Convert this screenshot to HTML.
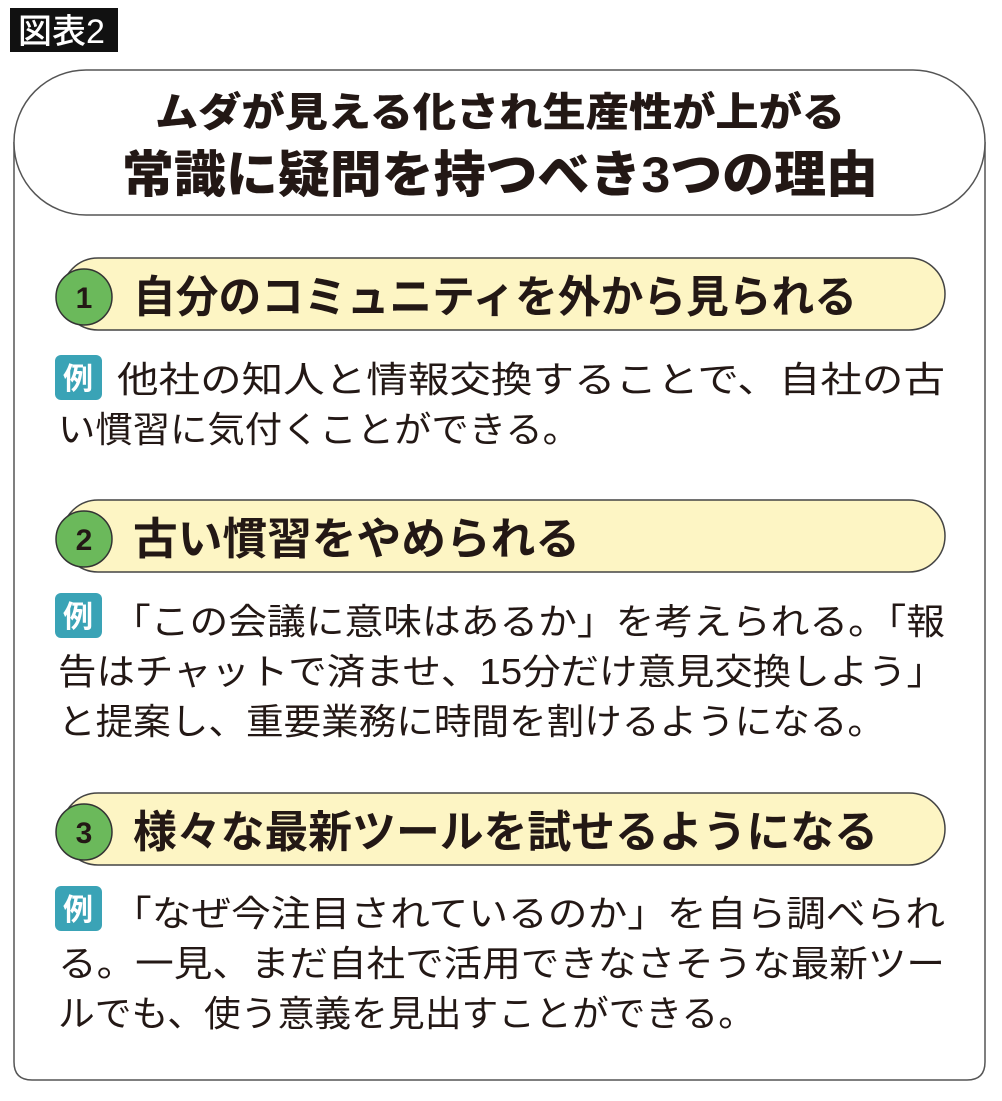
<!DOCTYPE html>
<html><head><meta charset="utf-8"><style>
html,body{margin:0;padding:0;background:#fff;}
svg{display:block;}
text{font-family:"Liberation Sans","Noto Sans CJK JP",sans-serif;fill:#231815;}
.t{font-weight:900;}
.h{font-weight:700;font-size:44px;}
.b{font-size:36px;}
.n{font-weight:900;font-size:30px;}
.r{font-weight:700;font-size:30px;fill:#fff;}
</style></head><body>
<svg width="1002" height="1101" viewBox="0 0 1002 1101">
<rect x="10" y="8" width="108" height="44" fill="#111"/>
<text x="18" y="43" font-size="34" style="fill:#fff;font-weight:500">図表2</text>
<path d="M14 142 V1062 Q14 1080 32 1080 H967 Q985 1080 985 1062 V142" fill="none" stroke="#555" stroke-width="1.5"/>
<rect x="14" y="70" width="971" height="145" rx="72" fill="#fff" stroke="#555" stroke-width="1.5"/>
<text class="t" x="155" y="126" font-size="40" textLength="690" lengthAdjust="spacingAndGlyphs">ムダが見える化され生産性が上がる</text>
<text class="t" x="122" y="192" font-size="50" textLength="756" lengthAdjust="spacingAndGlyphs">常識に疑問を持つべき3つの理由</text>

<g>
<rect x="62" y="258" width="883" height="72" rx="36" fill="#fdf5c4" stroke="#444" stroke-width="1.5"/>
<circle cx="84" cy="297" r="28" fill="#6bb95b" stroke="#333" stroke-width="1.5"/>
<text class="n" x="84" y="308" text-anchor="middle">1</text>
<text class="h" x="133" y="312" textLength="724" lengthAdjust="spacingAndGlyphs">自分のコミュニティを外から見られる</text>
<rect x="55" y="355" width="47" height="45" rx="6" fill="#3aa3b6"/>
<text class="r" x="78" y="389" text-anchor="middle">例</text>
<text class="b" x="117" y="392" textLength="828" lengthAdjust="spacingAndGlyphs">他社の知人と情報交換することで、自社の古</text>
<text class="b" x="58" y="442" textLength="522" lengthAdjust="spacingAndGlyphs">い慣習に気付くことができる。</text>
</g>

<g>
<rect x="62" y="500" width="883" height="72" rx="36" fill="#fdf5c4" stroke="#444" stroke-width="1.5"/>
<circle cx="84" cy="539" r="28" fill="#6bb95b" stroke="#333" stroke-width="1.5"/>
<text class="n" x="84" y="550" text-anchor="middle">2</text>
<text class="h" x="133" y="554" textLength="447" lengthAdjust="spacingAndGlyphs">古い慣習をやめられる</text>
<rect x="55" y="593" width="47" height="45" rx="6" fill="#3aa3b6"/>
<text class="r" x="78" y="627" text-anchor="middle">例</text>
<text class="b" x="112" y="634" textLength="833" lengthAdjust="spacingAndGlyphs">「この会議に意味はあるか」を考えられる。「報</text>
<text class="b" x="58" y="684" textLength="887" lengthAdjust="spacingAndGlyphs">告はチャットで済ませ、15分だけ意見交換しよう」</text>
<text class="b" x="58" y="734" textLength="827" lengthAdjust="spacingAndGlyphs">と提案し、重要業務に時間を割けるようになる。</text>
</g>

<g>
<rect x="62" y="793" width="883" height="72" rx="36" fill="#fdf5c4" stroke="#444" stroke-width="1.5"/>
<circle cx="84" cy="832" r="28" fill="#6bb95b" stroke="#333" stroke-width="1.5"/>
<text class="n" x="84" y="843" text-anchor="middle">3</text>
<text class="h" x="133" y="847" textLength="745" lengthAdjust="spacingAndGlyphs">様々な最新ツールを試せるようになる</text>
<rect x="55" y="886" width="47" height="45" rx="6" fill="#3aa3b6"/>
<text class="r" x="78" y="920" text-anchor="middle">例</text>
<text class="b" x="112" y="926" textLength="833" lengthAdjust="spacingAndGlyphs">「なぜ今注目されているのか」を自ら調べられ</text>
<text class="b" x="58" y="976" textLength="887" lengthAdjust="spacingAndGlyphs">る。一見、まだ自社で活用できなさそうな最新ツー</text>
<text class="b" x="58" y="1026" textLength="697" lengthAdjust="spacingAndGlyphs">ルでも、使う意義を見出すことができる。</text>
</g>
</svg>
</body></html>
